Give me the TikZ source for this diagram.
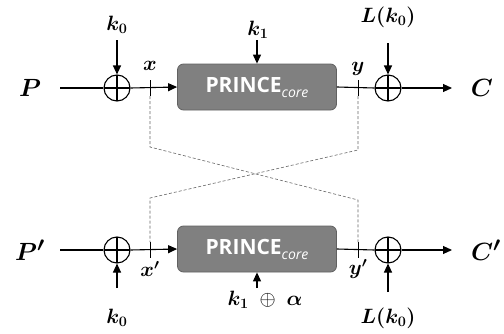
\documentclass[tikz,border=0pt]{standalone}
\usepackage{amsmath, bm}
\usepackage{fontspec}
\newfontfamily\corefont{Open Sans}
\usetikzlibrary{arrows.meta, positioning}

\begin{document}
\begin{tikzpicture}[
    x=1pt, y=1pt,
    xor/.style={circle, draw, line width=1.1pt, minimum size=26pt, inner sep=0pt,
                path picture={\draw[line width=1.1pt]
                  (path picture bounding box.north)--(path picture bounding box.south)
                  (path picture bounding box.west)--(path picture bounding box.east);}},
    core/.style={rectangle, rounded corners=6pt, draw=black!62, fill=black!50,
                line width=0.8pt, minimum width=159pt, minimum height=46pt,
                text=white, font=\corefont\bfseries\fontsize{21}{21}\selectfont},
    lbl/.style={font=\huge},
    big/.style={font=\Huge},
    arr/.style={-{Triangle[length=9pt,width=8pt]}, line width=1.1pt},
    wire/.style={line width=1.1pt},
    tick/.style={line width=0.8pt},
    cross/.style={densely dashed, black!60, line width=0.6pt}
]
\useasboundingbox (0,0) rectangle (504,333);
\newcommand{\corelabel}{PRINCE\raisebox{-5pt}{\fontsize{14}{14}\selectfont\mdseries\itshape core}}

% upper encryption
\node[big] (p)  at (30,245)  {$\bm{P}$};
\coordinate (pin) at (60,245);
\node[xor] (xa) at (117,245) {};
\node[core] (ca) at (257,246) {\corelabel};
\node[xor] (xb) at (388,245) {};
\coordinate (cout) at (452,245);
\node[big] (c)  at (482,245) {$\bm{C}$};

\node[lbl] (ka)  at (117,308) {$\bm{k_0}$};
\node[lbl] (k1a) at (258,303) {$\bm{k_1}$};
\node[lbl] (lka) at (388,316) {$\bm{L(k_0)}$};
\node[lbl] (xl)  at (150,267) {$\bm{x}$};
\node[lbl] (yl)  at (358,264) {$\bm{y}$};
\coordinate (xt) at (150,245);
\coordinate (yt) at (358,245);
\coordinate (kas) at (117,293);
\coordinate (k1as) at (257,293);
\coordinate (lkas) at (388,290);

\draw[wire] (pin) -- (xa.west);
\draw[arr] (xa.east) -- (ca.west);
\draw[wire] (ca.east) -- (xb.west);
\draw[arr] (xb.east) -- (cout);
\draw[arr] (kas) -- (xa);
\draw[arr] (k1as) -- (ca);
\draw[arr] (lkas) -- (xb);
\draw[tick] ([yshift=8pt]xt) -- ([yshift=-8pt]xt);
\draw[tick] ([yshift=8pt]yt) -- ([yshift=-8pt]yt);

% lower encryption
\node[big] (pp)  at (30,83)  {$\bm{P'}$};
\coordinate (ppin) at (60,83);
\node[xor] (xc) at (117,83) {};
\node[core] (cb) at (257,84) {\corelabel};
\node[xor] (xd) at (388,83) {};
\coordinate (cpout) at (452,83);
\node[big] (cp)  at (486,83) {$\bm{C'}$};

\node[lbl] (kb)  at (117,15) {$\bm{k_0}$};
\node[lbl] (k1b) at (265,33) {$\bm{k_1}\ \oplus\ \bm{\alpha}$};
\node[lbl] (lkb) at (388,15) {$\bm{L(k_0)}$};
\node[lbl] (xpl) at (150,64) {$\bm{x'}$};
\node[lbl] (ypl) at (358,64) {$\bm{y'}$};
\coordinate (xpt) at (150,83);
\coordinate (ypt) at (358,83);
\coordinate (kbs) at (117,45);
\coordinate (k1bs) at (257,45);
\coordinate (lkbs) at (388,41);

\draw[wire] (ppin) -- (xc.west);
\draw[arr] (xc.east) -- (cb.west);
\draw[wire] (cb.east) -- (xd.west);
\draw[arr] (xd.east) -- (cpout);
\draw[arr] (kbs) -- (xc);
\draw[arr] (k1bs) -- (cb);
\draw[arr] (lkbs) -- (xd);
\draw[tick] ([yshift=8pt]xpt) -- ([yshift=-8pt]xpt);
\draw[tick] ([yshift=8pt]ypt) -- ([yshift=-8pt]ypt);

% crossing of the two states
\draw[cross] ([yshift=-8pt]xt) -- (150,186) -- (358,133) -- ([yshift=8pt]ypt);
\draw[cross] ([yshift=-8pt]yt) -- (358,183) -- (150,135) -- ([yshift=8pt]xpt);
\end{tikzpicture}
\end{document}
